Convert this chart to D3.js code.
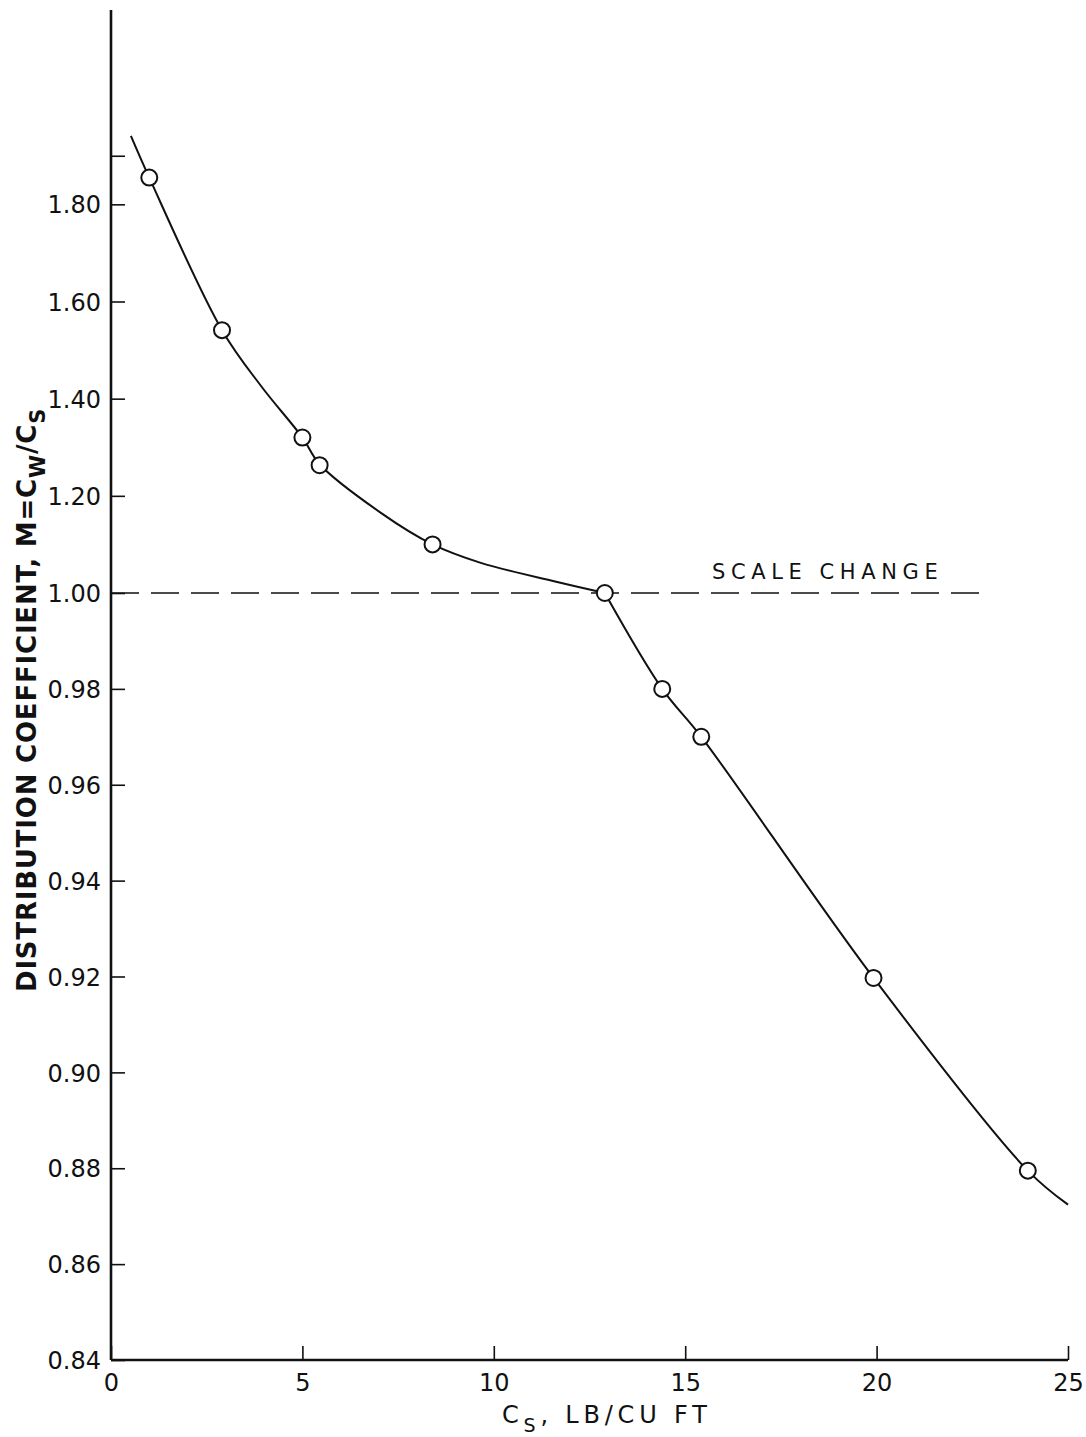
<!DOCTYPE html>
<html>
<head>
<meta charset="utf-8">
<script src="https://cdn.jsdelivr.net/npm/d3@7"></script>
<style>
  html, body { margin: 0; padding: 0; background: #fff; }
  svg { display: block; }
  text { fill: #111; font-family: "DejaVu Sans", sans-serif; }
</style>
</head>
<body>
<svg id="chart" width="1086" height="1437"></svg>
<script>
// Measured points: solid concentration Cs (lb/cu ft) and distribution coefficient M
const csValues = [1.0, 2.9, 5.0, 5.45, 8.4, 12.9, 14.4, 15.42, 19.92, 23.95];
const mValues  = [1.855, 1.541, 1.32, 1.263, 1.10, 1.00, 0.980, 0.970, 0.9197, 0.8795];

// Fitted curve, upper branch (M >= 1.00) and lower branch (M <= 1.00)
const upperCs = [0.52, 1.0, 2.9, 3.94, 5.0, 5.45, 7.05, 8.4, 9.66, 11.74, 12.9];
const upperM  = [1.941, 1.855, 1.541, 1.424, 1.32, 1.265, 1.165, 1.10, 1.062, 1.021, 1.00];
const lowerCs = [12.9, 14.4, 15.42, 19.92, 23.95, 25.0];
const lowerM  = [1.00, 0.980, 0.970, 0.9197, 0.8795, 0.8724];

// Axis ticks (the y axis changes scale at M = 1.00)
const xTicks = [0, 5, 10, 15, 20, 25];
const yTicksLower = [0.84, 0.86, 0.88, 0.90, 0.92, 0.94, 0.96, 0.98, 1.00];
const yTicksUpper = [1.20, 1.40, 1.60, 1.80, 1.90];
const yUnlabelled = [1.90];
const scaleBreak = 1.00;

const svg = d3.select("#chart");

const x = d3.scaleLinear().domain([0, 25]).range([111, 1068]);
// piecewise scale: 0.02 per division below 1.00, 0.20 per division above
const y = d3.scaleLinear().domain([0.84, scaleBreak, 2.2]).range([1360, 593, 10]);

// axes with ticks pointing into the plot
const xAxis = d3.axisBottom(x).tickValues(xTicks).tickSizeInner(-14).tickSizeOuter(0).tickPadding(12)
  .tickFormat(d3.format("d"));
const yAxis = d3.axisLeft(y).tickValues(yTicksLower.concat(yTicksUpper))
  .tickSizeInner(-14).tickSizeOuter(0).tickPadding(10)
  .tickFormat(d => yUnlabelled.includes(d) ? "" : d3.format(".2f")(d));

const gx = svg.append("g").attr("transform", `translate(0,${y(0.84)})`).call(xAxis);
const gy = svg.append("g").attr("transform", `translate(${x(0)},0)`).call(yAxis);

[gx, gy].forEach(g => {
  g.select(".domain").attr("stroke", "#111").attr("stroke-width", 2.6);
  g.selectAll(".tick line").attr("stroke", "#111").attr("stroke-width", 1.6);
  g.selectAll(".tick text").attr("font-family", "DejaVu Sans, sans-serif")
    .attr("font-size", 24).attr("fill", "#111");
});
gx.select(".domain").attr("d", `M${x(0)},0H${x(25)}`);
gy.select(".domain").attr("d", `M0,${y(0.84)}V${y(2.2)}`);
gy.selectAll(".tick text").attr("dy", "0.36em");
gx.selectAll(".tick text").attr("dy", "0.78em");

// scale-change line
svg.append("line")
  .attr("x1", x(0)).attr("x2", x(22.9))
  .attr("y1", y(scaleBreak)).attr("y2", y(scaleBreak))
  .attr("stroke", "#111").attr("stroke-width", 1.6)
  .attr("stroke-dasharray", "28,12");

svg.append("text")
  .attr("x", x(15.7)).attr("y", y(scaleBreak) - 14)
  .attr("font-size", 21).attr("letter-spacing", 5.6)
  .text("SCALE  CHANGE");

// fitted curve, drawn as two branches meeting at the scale change
const line = d3.line().x(d => x(d.cs)).y(d => y(d.m)).curve(d3.curveCatmullRom.alpha(0.5));
[[upperCs, upperM], [lowerCs, lowerM]].forEach(([cs, m]) => {
  svg.append("path").datum(cs.map((c, i) => ({ cs: c, m: m[i] })))
    .attr("d", line)
    .attr("fill", "none").attr("stroke", "#111").attr("stroke-width", 2);
});

// data points as open circles
const points = csValues.map((c, i) => ({ cs: c, m: mValues[i] }));
svg.selectAll("circle.pt").data(points).enter().append("circle")
  .attr("class", "pt")
  .attr("cx", d => x(d.cs)).attr("cy", d => y(d.m)).attr("r", 8)
  .attr("fill", "#fff").attr("stroke", "#111").attr("stroke-width", 2);

// x-axis title
const xt = svg.append("text")
  .attr("x", 502).attr("y", 1423)
  .attr("font-size", 24).attr("letter-spacing", 4.8);
xt.append("tspan").text("C");
xt.append("tspan").attr("dy", 9).attr("font-size", 19).text("S");
xt.append("tspan").attr("dy", -9).text(",  LB/CU  FT");

// y-axis title (rotated)
const yt = svg.append("text")
  .attr("transform", `translate(36,992) rotate(-90)`)
  .attr("font-family", "DejaVu Sans Condensed, DejaVu Sans, sans-serif")
  .attr("font-weight", "bold").attr("font-size", 26).attr("letter-spacing", 0.8);
yt.append("tspan").text("DISTRIBUTION  COEFFICIENT,  M=C");
yt.append("tspan").attr("dy", 9).attr("font-size", 21).text("W");
yt.append("tspan").attr("dy", -9).text("/C");
yt.append("tspan").attr("dy", 9).attr("font-size", 21).text("S");
</script>
</body>
</html>
